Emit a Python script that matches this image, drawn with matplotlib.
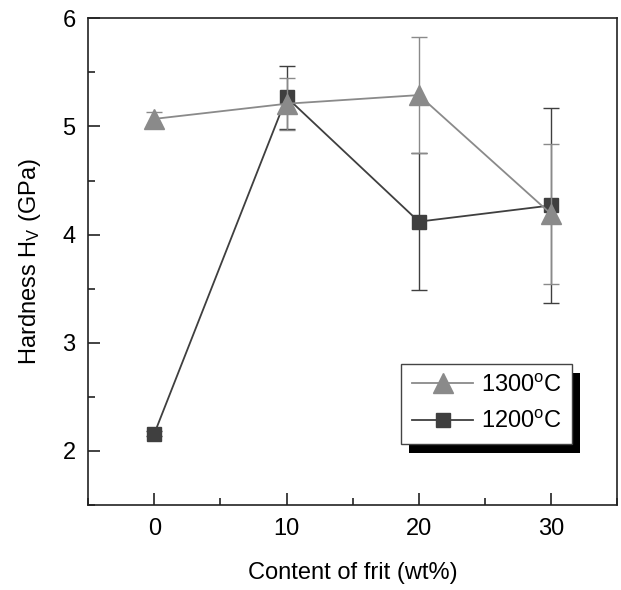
# hardness_vs_frit.py
# Vickers hardness against frit content for two sintering temperatures.

import matplotlib.pyplot as plt
from matplotlib.lines import Line2D
from matplotlib.patches import Rectangle
from matplotlib.ticker import MultipleLocator

plt.rcParams["font.family"] = ["Liberation Sans", "DejaVu Sans"]
plt.rcParams["mathtext.fontset"] = "custom"
plt.rcParams["mathtext.rm"] = "Liberation Sans"
plt.rcParams["mathtext.it"] = "Liberation Sans:italic"

# Data
frit = [0, 10, 20, 30]
hv_1300 = [5.07, 5.21, 5.29, 4.19]
err_1300 = [0.06, 0.24, 0.54, 0.65]
hv_1200 = [2.16, 5.27, 4.12, 4.27]
err_1200 = [0.02, 0.29, 0.63, 0.90]
labels = [r"1300$^{\rm o}$C", r"1200$^{\rm o}$C"]

gray = "#8a8a8a"
dark = "#3f3f3f"

fig = plt.figure(figsize=(6.21, 5.90), dpi=100)
ax = fig.add_axes([0.142, 0.144, 0.852, 0.825])

ax.errorbar(frit, hv_1300, yerr=err_1300, color=gray, marker="^",
            markersize=14, linewidth=1.3, elinewidth=1.0, capsize=6,
            capthick=1.0, markeredgecolor=gray, zorder=3)
ax.errorbar(frit, hv_1200, yerr=err_1200, color=dark, marker="s",
            markersize=10.5, linewidth=1.3, elinewidth=1.0, capsize=6,
            capthick=1.0, markeredgecolor=dark, zorder=2)

ax.set_xlim(-5, 35)
ax.set_ylim(1.5, 6)
ax.xaxis.set_major_locator(MultipleLocator(10))
ax.xaxis.set_minor_locator(MultipleLocator(5))
ax.yaxis.set_major_locator(MultipleLocator(1))
ax.yaxis.set_minor_locator(MultipleLocator(0.5))
ax.tick_params(which="both", direction="in", top=False, right=False,
               labelsize=17, width=1.2, color="#222222")
ax.tick_params(which="major", length=8.5, pad=9)
ax.tick_params(which="minor", length=5)
for s in ax.spines.values():
    s.set_linewidth(1.2)
    s.set_color("#222222")

ax.set_xlabel("Content of frit (wt%)", fontsize=17, labelpad=16)
ax.set_ylabel(r"Hardness H$_{\rm V}$ (GPa)", fontsize=17, labelpad=14)

handles = [
    Line2D([], [], color=gray, marker="^", markersize=14, linewidth=1.3),
    Line2D([], [], color=dark, marker="s", markersize=10.5, linewidth=1.3),
]
leg = ax.legend(handles, labels, loc="upper left",
                bbox_to_anchor=(0.592, 0.290), fontsize=17, fancybox=False,
                framealpha=1, edgecolor="#444444", handlelength=2.6,
                handletextpad=0.3, borderpad=0.45, labelspacing=0.6,
                borderaxespad=0)
leg.get_frame().set_linewidth(1.0)

# black drop shadow behind the legend box
fig.canvas.draw()
bb = leg.get_window_extent()
shadow = Rectangle((bb.x0 + 8, bb.y0 - 9), bb.width, bb.height,
                   transform=None, facecolor="black", edgecolor="none",
                   zorder=4.5)
ax.add_artist(shadow)

fig.savefig("out.png", dpi=100)
